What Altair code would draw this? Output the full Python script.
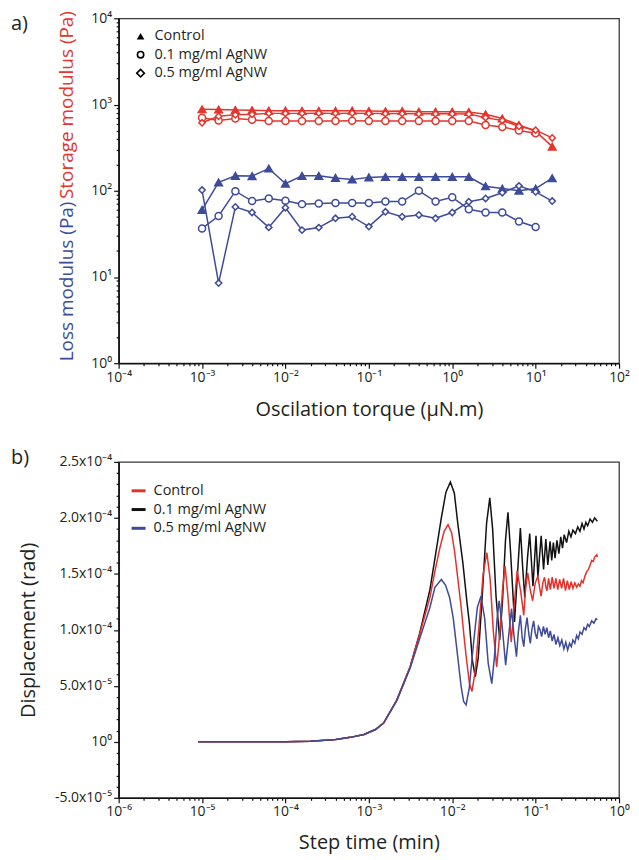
import altair as alt
import pandas as pd
import numpy as np

FONT = "Open Sans"
TXT = "#231f20"
RED_A = "#e5352c"
BLUE_A = "#3d4b9b"
RED_B = "#e8302a"
BLACK_B = "#111111"
BLUE_B = "#3e4a9a"

# ---------------- Panel a data ----------------
torque = [0.001, 0.00158, 0.00251, 0.00398, 0.00631, 0.01, 0.0158, 0.0251, 0.0398, 0.0631,
          0.1, 0.158, 0.251, 0.398, 0.631, 1.0, 1.58, 2.51, 3.98, 6.31, 10.0, 15.8]
samples = ["Control", "0.1 mg/ml AgNW", "0.5 mg/ml AgNW"]

storage_control = [880, 875, 865, 860, 850, 850, 845, 845, 845, 850, 840, 835, 840, 825, 825, 825,
                   820, 770, 690, 580, 490, 325]
storage_01 = [705, 655, 690, 665, 645, 645, 645, 645, 645, 648, 645, 645, 645, 645, 645, 645,
              645, 580, 550, 500, 465, None]
storage_05 = [615, 730, 760, 770, 790, 790, 790, 795, 790, 795, 790, 785, 785, 780, 780, 780,
              775, 705, 655, 560, 505, 410]
loss_control = [60, 125, 149, 148, 181, 121, 149, 149, 141, 135, 143, 145, 145, 145, 145, 145,
                145, 113, 106, 100, 106, 140]
loss_01 = [36.6, 51, 99, 76, 81.5, 76.6, 70, 71, 72, 72, 72, 75, 75, 100, 75, 84, 61, 56, 56,
           44, 38, None]
loss_05 = [102, 8.5, 65, 56, 37.6, 63.6, 35, 37.4, 48, 50, 38.4, 57, 50, 52.4, 48, 56, 74.6,
           81.5, 95, 114, 97, 76]

rows = []
for modulus, sample, vals in [
    ("Storage", samples[0], storage_control), ("Storage", samples[1], storage_01),
    ("Storage", samples[2], storage_05), ("Loss", samples[0], loss_control),
    ("Loss", samples[1], loss_01), ("Loss", samples[2], loss_05)]:
    for t, v in zip(torque, vals):
        if v is not None:
            rows.append({"torque": t, "value": v, "modulus": modulus, "sample": sample})
df_a = pd.DataFrame(rows)
df_a["series"] = df_a["modulus"] + "|" + df_a["sample"]
df_a["fillkey"] = np.where(df_a["sample"] == "Control", df_a["modulus"], "open")

# ---------------- Panel b data (time in min, displacement in 1e-5 rad) ----------------
black_pts = [(9e-6, 0), (1e-4, 0), (2e-4, 0.05), (4e-4, 0.2), (6e-4, 0.4), (8.75e-4, 0.65),
             (1.2e-3, 1.1), (1.51e-3, 1.7), (2.17e-3, 3.75), (3.13e-3, 6.7), (4.1e-3, 9.8),
             (5.4e-3, 13.6), (6.4e-3, 17.0), (7.4e-3, 20.0), (8.4e-3, 22.3), (9.5e-3, 23.2),
             (1.06e-2, 22.2), (1.17e-2, 19.4), (1.34e-2, 16.0), (1.5e-2, 12.5), (1.61e-2, 10.5),
             (1.75e-2, 7.2), (1.89e-2, 5.8), (2.05e-2, 7.5), (2.31e-2, 13.5), (2.58e-2, 19.5),
             (2.82e-2, 21.8), (3.05e-2, 19.0), (3.35e-2, 13.0), (3.71e-2, 9.1), (4.0e-2, 12.5),
             (4.35e-2, 18.0), (4.66e-2, 20.5), (5.0e-2, 17.0), (5.58e-2, 10.7), (6.0e-2, 14.5),
             (6.56e-2, 19.1), (7.0e-2, 15.5), (7.41e-2, 12.9), (8.0e-2, 16.5), (8.49e-2, 18.6),
             (9.29e-2, 13.9), (0.101, 18.4), (0.1065, 14.7), (0.1165, 18.4), (0.1245, 15.4),
             (0.1325, 18.1), (0.14, 15.8), (0.149, 17.9), (0.156, 16.2), (0.163, 17.8),
             (0.171, 16.4), (0.18, 18.0), (0.19, 16.8), (0.20, 18.3), (0.21, 17.3), (0.22, 18.5),
             (0.235, 17.8), (0.25, 18.8), (0.265, 18.3), (0.28, 18.9), (0.30, 18.6), (0.32, 19.2),
             (0.34, 18.8), (0.36, 19.5), (0.38, 19.0), (0.40, 19.6), (0.42, 19.3), (0.45, 19.9),
             (0.48, 19.6), (0.51, 20.0), (0.55, 19.7)]
red_pts = [(9e-6, 0), (1e-4, 0), (2e-4, 0.05), (4e-4, 0.2), (6e-4, 0.4), (8.75e-4, 0.65),
           (1.2e-3, 1.1), (1.51e-3, 1.7), (2.17e-3, 3.75), (3.13e-3, 6.7), (4.1e-3, 9.7),
           (5.4e-3, 12.9), (6.3e-3, 15.5), (7.1e-3, 17.3), (8.0e-3, 18.8), (8.9e-3, 19.4),
           (9.8e-3, 18.7), (1.067e-2, 17.0), (1.17e-2, 14.5), (1.28e-2, 12.0), (1.39e-2, 9.3),
           (1.47e-2, 7.6), (1.61e-2, 5.2), (1.726e-2, 4.5), (1.9e-2, 6.5), (2.1e-2, 10.5),
           (2.35e-2, 15.0), (2.6e-2, 16.9), (2.85e-2, 14.5), (3.1e-2, 10.0), (3.41e-2, 6.7),
           (3.7e-2, 9.5), (4.0e-2, 13.5), (4.3e-2, 15.7), (4.65e-2, 13.0), (5.1e-2, 8.9),
           (5.5e-2, 12.0), (6.0e-2, 15.3), (6.6e-2, 13.5), (7.21e-2, 11.3), (7.6e-2, 13.8),
           (8.04e-2, 15.1), (8.6e-2, 13.6), (9.2e-2, 12.6), (9.9e-2, 14.2), (0.1065, 14.8),
           (0.1115, 13.8), (0.1165, 13.0), (0.122, 14.2), (0.128, 14.7), (0.133, 13.8),
           (0.137, 13.5), (0.143, 14.6), (0.15, 13.6), (0.158, 14.7), (0.166, 13.7),
           (0.175, 14.6), (0.184, 13.6), (0.194, 14.5), (0.205, 13.7), (0.216, 14.6),
           (0.228, 13.5), (0.24, 14.4), (0.253, 13.6), (0.267, 14.3), (0.28, 13.7),
           (0.295, 14.2), (0.31, 13.8), (0.325, 14.1), (0.34, 13.9), (0.355, 14.4),
           (0.37, 14.2), (0.39, 14.8), (0.41, 15.2), (0.43, 15.4), (0.45, 15.8), (0.47, 16.2),
           (0.49, 16.1), (0.51, 16.5), (0.54, 16.7), (0.55, 16.5)]
blue_pts = [(9e-6, 0), (1e-4, 0), (2e-4, 0.05), (4e-4, 0.2), (6e-4, 0.4), (8.75e-4, 0.65),
            (1.2e-3, 1.1), (1.51e-3, 1.68), (2.17e-3, 3.7), (3.13e-3, 6.6), (4.1e-3, 9.3),
            (4.5e-3, 10.2), (5.4e-3, 12.0), (6.2e-3, 13.8), (7.4e-3, 14.5), (8.3e-3, 14.0),
            (9.3e-3, 12.9), (1.03e-2, 11.0), (1.115e-2, 8.8), (1.28e-2, 4.9), (1.37e-2, 3.6),
            (1.466e-2, 3.3), (1.6e-2, 4.8), (1.8e-2, 8.8), (2.0e-2, 12.0), (2.21e-2, 13.0),
            (2.45e-2, 11.0), (2.7e-2, 7.0), (2.98e-2, 5.2), (3.2e-2, 7.5), (3.45e-2, 11.0),
            (3.65e-2, 12.6), (3.95e-2, 10.5), (4.37e-2, 6.85), (4.75e-2, 9.5), (5.14e-2, 11.9),
            (5.5e-2, 9.5), (5.89e-2, 7.6), (6.2e-2, 9.8), (6.56e-2, 11.3), (6.9e-2, 9.3),
            (7.21e-2, 8.5), (7.5e-2, 10.0), (7.89e-2, 11.1), (8.3e-2, 9.6), (8.63e-2, 8.8),
            (9.0e-2, 10.0), (9.46e-2, 10.8), (0.099, 9.7), (0.1035, 9.2), (0.108, 10.3),
            (0.113, 10.0), (0.118, 9.4), (0.124, 10.3), (0.13, 9.6), (0.136, 10.2),
            (0.143, 9.3), (0.15, 9.9), (0.158, 9.0), (0.166, 9.6), (0.175, 8.7), (0.185, 9.3),
            (0.195, 8.6), (0.206, 9.1), (0.218, 8.3), (0.23, 8.9), (0.242, 8.2), (0.255, 8.8),
            (0.268, 8.5), (0.28, 9.1), (0.295, 8.8), (0.31, 9.5), (0.325, 9.2), (0.34, 9.8),
            (0.36, 9.6), (0.38, 10.2), (0.40, 10.0), (0.42, 10.5), (0.44, 10.3), (0.47, 10.8),
            (0.50, 10.6), (0.53, 11.0), (0.55, 10.9)]

rows_b = []
for sample, pts in [(samples[1], black_pts), (samples[0], red_pts), (samples[2], blue_pts)]:
    for t, v in pts:
        rows_b.append({"time": t, "disp": v * 1e-5, "sample": sample})
df_b = pd.DataFrame(rows_b)

one = pd.DataFrame({"a": [0]})

# ---------------- helpers for axes ----------------
SUP = {"-": "\u207b", "0": "\u2070", "1": "\u00b9", "2": "\u00b2", "3": "\u00b3",
       "4": "\u2074", "5": "\u2075", "6": "\u2076"}


def sup(k):
    return "".join(SUP[c] for c in str(k))


def log_values(lo, hi):
    vals = []
    for e in range(lo, hi):
        for m in range(1, 10):
            vals.append(float(f"{m}e{e}"))
    vals.append(float(f"1e{hi}"))
    return vals


LOGE = "round(log(datum.value)/LN10)"
LOG_MAJOR = f"abs(log(datum.value)/LN10-{LOGE})<0.001"


def log_label_expr(lo, hi):
    chain = "".join(f"{LOGE}=={k}?'10{sup(k)}':" for k in range(lo, hi + 1))
    return f"{LOG_MAJOR}?({chain}''):''"


def log_axis(lo, hi, title, **kw):
    return alt.Axis(values=log_values(lo, hi), labelExpr=log_label_expr(lo, hi),
                    tickSize={"condition": {"test": LOG_MAJOR, "value": 5}, "value": 2.5},
                    title=title, labelFlush=False, labelOverlap=False, **kw)


# ---------------- Panel a ----------------
WA, HA = 502, 346
xa = alt.X("torque:Q", scale=alt.Scale(type="log", domain=[1e-4, 1e2], nice=False),
           axis=log_axis(-4, 2, "Oscilation torque (\u03bcN.m)", titlePadding=15))
ya = alt.Y("value:Q", scale=alt.Scale(type="log", domain=[1, 1e4], nice=False),
           axis=log_axis(0, 4, None))

lines_a = alt.Chart(df_a).mark_line(strokeWidth=1.5, clip=True).encode(
    x=xa, y=ya,
    color=alt.Color("modulus:N", scale=alt.Scale(domain=["Storage", "Loss"], range=[RED_A, BLUE_A]),
                    legend=None),
    detail="series:N")
points_a = alt.Chart(df_a).mark_point(opacity=1, strokeWidth=1.5, clip=True).encode(
    x=xa, y=ya,
    shape=alt.Shape("sample:N", scale=alt.Scale(domain=samples,
                                                range=["triangle-up", "circle", "diamond"]),
                    legend=None),
    size=alt.Size("sample:O", scale=alt.Scale(domain=samples, range=[58, 40, 58]), legend=None),
    stroke=alt.Stroke("modulus:N", scale=alt.Scale(domain=["Storage", "Loss"],
                                                   range=[RED_A, BLUE_A]), legend=None),
    fill=alt.Fill("fillkey:N", scale=alt.Scale(domain=["Storage", "Loss", "open"],
                                               range=[RED_A, BLUE_A, "white"]), legend=None))

TITLE_X = -52
texts_a = [
    alt.Chart(one).mark_text(text="a)", align="left", baseline="middle", font=FONT, fontSize=20,
                             color=TXT).encode(x=alt.value(-108), y=alt.value(6)),
    alt.Chart(one).mark_text(text="Loss modulus (Pa)", angle=270, align="center",
                             baseline="middle", font=FONT, fontSize=19, color=BLUE_A).encode(
        x=alt.value(TITLE_X), y=alt.value(264)),
    alt.Chart(one).mark_text(text="Storage modulus (Pa)", angle=270, align="center",
                             baseline="middle", font=FONT, fontSize=19, color=RED_A).encode(
        x=alt.value(TITLE_X), y=alt.value(87)),
]
leg_a = []
for i, (lab, shp, filled) in enumerate([(samples[0], "triangle-up", True),
                                        (samples[1], "circle", False),
                                        (samples[2], "diamond", False)]):
    yy = 18 + 18.5 * i
    leg_a.append(alt.Chart(one).mark_point(shape=shp, filled=filled, color="black", opacity=1,
                                           strokeWidth=1.6, size=58 if i != 1 else 40).encode(
        x=alt.value(22), y=alt.value(yy)))
    leg_a.append(alt.Chart(one).mark_text(text=lab, align="left", baseline="middle", font=FONT,
                                          fontSize=14.5, color=TXT).encode(
        x=alt.value(36), y=alt.value(yy)))

panel_a = alt.layer(lines_a, points_a, *texts_a, *leg_a).properties(width=WA, height=HA)

# ---------------- Panel b ----------------
WB, HB = 502, 337
ylin_vals = [i * 1e-5 for i in range(-5, 26)]
Y_MAJOR = "abs(datum.value*2e4-round(datum.value*2e4))<0.01"
ylabels = {-1: "-5.0x10" + sup(-5), 0: "10" + sup(0), 1: "5.0x10" + sup(-5), 2: "1.0x10" + sup(-4),
           3: "1.5x10" + sup(-4), 4: "2.0x10" + sup(-4), 5: "2.5x10" + sup(-4)}
ychain = "".join(f"round(datum.value*2e4)=={k}?'{v}':" for k, v in ylabels.items())

xb = alt.X("time:Q", scale=alt.Scale(type="log", domain=[1e-6, 1], nice=False),
           axis=log_axis(-6, 0, "Step time (min)", titlePadding=14))
yb = alt.Y("disp:Q", scale=alt.Scale(domain=[-5e-5, 2.5e-4], nice=False, zero=False),
           axis=alt.Axis(values=ylin_vals, labelExpr=f"{Y_MAJOR}?({ychain}''):''",
                         tickSize={"condition": {"test": Y_MAJOR, "value": 5}, "value": 2.5},
                         labelOverlap=False, labelFlush=False, title="Displacement (rad)",
                         titlePadding=16))
lines_b = alt.Chart(df_b).mark_line(strokeWidth=1.5, clip=True).encode(
    x=xb, y=yb,
    color=alt.Color("sample:N", scale=alt.Scale(domain=samples, range=[RED_B, BLACK_B, BLUE_B]),
                    legend=None),
    detail="sample:N")

texts_b = [alt.Chart(one).mark_text(text="b)", align="left", baseline="middle", font=FONT,
                                    fontSize=20, color=TXT).encode(
    x=alt.value(-108), y=alt.value(-4))]
leg_b = []
for i, (lab, col) in enumerate(zip(samples, [RED_B, BLACK_B, BLUE_B])):
    yy = 29 + 18.8 * i
    leg_b.append(alt.Chart(one).mark_rule(color=col, strokeWidth=3).encode(
        x=alt.value(13), x2=alt.value(27), y=alt.value(yy)))
    leg_b.append(alt.Chart(one).mark_text(text=lab, align="left", baseline="middle", font=FONT,
                                          fontSize=14.5, color=TXT).encode(
        x=alt.value(35), y=alt.value(yy)))

panel_b = alt.layer(lines_b, *texts_b, *leg_b).properties(width=WB, height=HB)

chart = alt.vconcat(panel_a, panel_b, spacing=27).resolve_scale(
    color="independent", stroke="independent", fill="independent", shape="independent",
    size="independent"
).properties(
    padding={"left": 2, "top": 0, "right": 0, "bottom": 0}
).configure_view(stroke="#3a3a3a", strokeWidth=1.3).configure_axis(
    grid=False, domainColor="#111", domainWidth=1.6, tickColor="#111", tickWidth=1.2,
    labelFont=FONT, labelFontSize=14, labelColor=TXT, labelPadding=2,
    titleFont=FONT, titleFontSize=20, titleFontWeight="normal", titleColor=TXT)

chart.save("out.html", embed_options={"renderer": "svg", "actions": False})
